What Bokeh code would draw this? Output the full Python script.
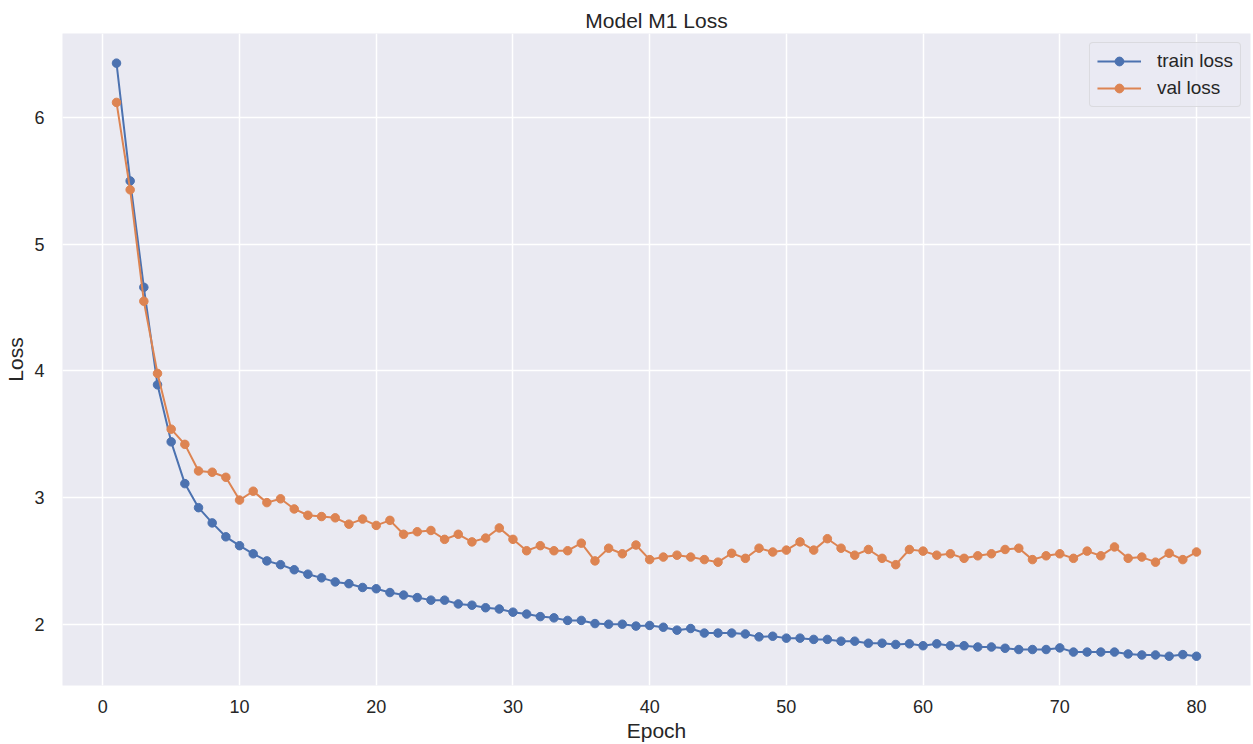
from bokeh.plotting import figure
from bokeh.models import FixedTicker, Range1d, ColumnDataSource
from bokeh.embed import file_html
from bokeh.resources import INLINE

epochs = list(range(1, 81))

train_loss = [6.43, 5.50, 4.66, 3.89, 3.44, 3.11, 2.92, 2.80, 2.69, 2.62,
              2.556, 2.50, 2.47, 2.43, 2.395, 2.366, 2.334, 2.32, 2.29, 2.28,
              2.25, 2.23, 2.21, 2.19, 2.19, 2.16, 2.15, 2.13, 2.12, 2.095,
              2.08, 2.06, 2.05, 2.03, 2.03, 2.005, 2.00, 2.00, 1.985, 1.99,
              1.976, 1.953, 1.966, 1.93, 1.93, 1.93, 1.923, 1.90, 1.905, 1.89,
              1.89, 1.88, 1.88, 1.866, 1.866, 1.85, 1.85, 1.84, 1.845, 1.83,
              1.845, 1.83, 1.83, 1.82, 1.82, 1.81, 1.80, 1.80, 1.80, 1.813,
              1.78, 1.78, 1.78, 1.78, 1.765, 1.757, 1.757, 1.747, 1.76, 1.747]

val_loss = [6.12, 5.43, 4.55, 3.98, 3.54, 3.42, 3.21, 3.20, 3.16, 2.98,
            3.05, 2.96, 2.99, 2.91, 2.86, 2.85, 2.84, 2.79, 2.83, 2.78,
            2.82, 2.71, 2.73, 2.74, 2.67, 2.71, 2.65, 2.68, 2.76, 2.67,
            2.58, 2.62, 2.58, 2.58, 2.64, 2.50, 2.60, 2.556, 2.625, 2.51,
            2.53, 2.545, 2.53, 2.51, 2.49, 2.56, 2.52, 2.60, 2.57, 2.585,
            2.65, 2.585, 2.675, 2.60, 2.545, 2.59, 2.52, 2.47, 2.59, 2.577,
            2.545, 2.556, 2.52, 2.54, 2.556, 2.59, 2.60, 2.51, 2.54, 2.556,
            2.52, 2.577, 2.54, 2.61, 2.52, 2.53, 2.49, 2.56, 2.51, 2.57]

x_ticks = [0, 10, 20, 30, 40, 50, 60, 70, 80]
y_ticks = [2, 3, 4, 5, 6]

FONT = "Liberation Sans"
TXT = "#262626"
BLUE = "#4C72B0"
ORANGE = "#DD8452"

p = figure(width=1253, height=744, output_backend="svg", toolbar_location=None,
           title="Model M1 Loss",
           x_range=Range1d(-2.95, 83.95), y_range=Range1d(1.516, 6.664),
           min_border_left=62, min_border_right=3, min_border_top=33,
           min_border_bottom=59)

p.background_fill_color = "#EAEAF2"
p.border_fill_color = "white"
p.outline_line_color = None

p.title.align = "center"
p.title.text_font = FONT
p.title.text_font_size = "21px"
p.title.text_font_style = "normal"
p.title.text_color = TXT
p.title.standoff = 4

for ax in (p.xaxis[0], p.yaxis[0]):
    ax.axis_line_color = None
    ax.major_tick_line_color = None
    ax.minor_tick_line_color = None
    ax.major_label_text_font = FONT
    ax.major_label_text_font_size = "18px"
    ax.major_label_text_color = TXT
    ax.axis_label_text_font = FONT
    ax.axis_label_text_font_size = "21px"
    ax.axis_label_text_font_style = "normal"
    ax.axis_label_text_color = TXT

p.xaxis.ticker = FixedTicker(ticks=x_ticks)
p.yaxis.ticker = FixedTicker(ticks=y_ticks)
p.xaxis.axis_label = "Epoch"
p.yaxis.axis_label = "Loss"
p.xaxis.major_label_standoff = 8
p.yaxis.major_label_standoff = 12
p.xaxis.axis_label_standoff = 3
p.yaxis.axis_label_standoff = 4

p.xgrid.grid_line_color = "white"
p.ygrid.grid_line_color = "white"
p.xgrid.grid_line_width = 1.5
p.ygrid.grid_line_width = 1.5

src = ColumnDataSource(dict(epoch=epochs, train=train_loss, val=val_loss))

p.line("epoch", "train", source=src, color=BLUE, line_width=2, legend_label="train loss")
p.scatter("epoch", "train", source=src, color=BLUE, size=8.5, legend_label="train loss")
p.line("epoch", "val", source=src, color=ORANGE, line_width=2, legend_label="val loss")
p.scatter("epoch", "val", source=src, color=ORANGE, size=8.5, legend_label="val loss")

lg = p.legend[0]
lg.location = "top_right"
lg.margin = 9
lg.padding = 7
lg.spacing = 5
lg.label_text_font = FONT
lg.label_text_font_size = "19px"
lg.label_text_color = TXT
lg.label_height = 22
lg.glyph_height = 22
lg.glyph_width = 44
lg.label_standoff = 16
lg.background_fill_color = "#EAEAF2"
lg.background_fill_alpha = 0.8
lg.border_line_color = "#CCCCCC"
lg.border_line_width = 1
lg.border_radius = 4

open("out.html", "w").write(file_html(p, INLINE))
